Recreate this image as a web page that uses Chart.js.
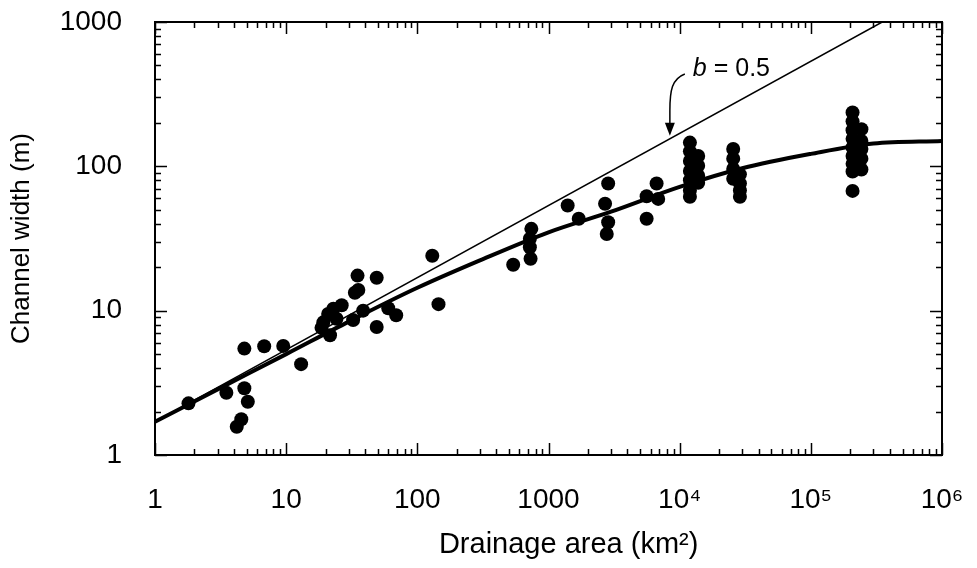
<!DOCTYPE html>
<html>
<head>
<meta charset="utf-8">
<style>
  html, body { margin: 0; padding: 0; background: #fff; }
  #wrap { width: 977px; height: 568px; }
</style>
</head>
<body>
<div id="wrap"><canvas id="widthChart"></canvas></div>
<script src="https://cdn.jsdelivr.net/npm/chart.js@4.4.1/dist/chart.umd.min.js"></script>
<script>
// Messpunkte: Einzugsgebiet (km²) und Gerinnebreite (m)
const areaKm2 = [
  1.8, 3.5, 4.8, 4.8, 5.1, 4.55, 4.2, 6.8, 9.5, 13,
  18.6, 19.2, 20.9, 21.6, 22.9, 24.2, 26.5, 32.4, 33.4, 35.5,
  35, 38.6, 49, 49, 60, 69, 130, 145,
  538, 740, 721, 721, 730, 1400, 1700, 2850, 2700, 2850, 2780,
  5600, 5600, 6670, 6860,
  11970, 11970, 11970, 11970, 11970, 11970, 11970,
  13840, 13840, 13840, 13840,
  25600, 25600, 25600, 25600,
  28800, 28800, 28800, 28800,
  208000, 208000, 208000, 208000, 208000, 208000, 208000, 208000, 208000,
  243000, 243000, 243000, 243000, 243000
];
const widthM = [
  2.28, 2.7, 5.46, 2.9, 2.34, 1.77, 1.57, 5.67, 5.7, 4.26,
  7.6, 8.3, 9.5, 6.75, 10.3, 8.8, 10.9, 8.6, 13.3, 13.9,
  17.5, 10.0, 16.9, 7.7, 10.4, 9.3, 24, 11.1,
  20.8, 36.9, 31.5, 27.5, 22.9, 53.5, 43.3, 76, 55, 41, 34,
  43.3, 62, 76, 59.5,
  146, 127, 109, 93, 80, 68, 61.5,
  118, 101, 86, 77,
  132, 113, 96, 82,
  88, 76, 68, 61.5,
  236, 205, 178, 155, 135, 118, 104, 92, 67.6,
  181, 150, 132, 113, 95
];

// dicke Ausgleichskurve
const fitArea = [1, 3, 10, 30, 100, 300, 1000, 3000, 1e4, 3e4, 1e5, 3e5, 1e6];
const fitWidth = [1.7, 2.85, 5.0, 8.4, 14.4, 22.3, 34.9, 48.5, 72, 97, 122, 144, 150];

// dünne Linie b = 0.5
const slopeArea = [1, 350000];
const slopeWidth = [1.7, 1000];

// Achsenbeschriftung
const xTickValues = [1, 10, 100, 1000, 1e4, 1e5, 1e6];
const xTickLabels = ['1', '10', '100', '1000', '10⁴', '10⁵', '10⁶'];
const yTickValues = [1, 10, 100, 1000];
const yTickLabels = ['1', '10', '100', '1000'];

// Anmerkung "b = 0.5" mit Pfeil
const noteAt = { x: 12600, y: 473 };
const arrowTip = { x: 8420, y: 163 };

const FONT = "'Liberation Sans', Arial, Helvetica, sans-serif";

const toXY = (xs, ys) => xs.map((x, i) => ({ x: x, y: ys[i] }));

// Rahmen, nach innen zeigende Striche und Anmerkung
const framePlugin = {
  id: 'frameAndTicks',
  afterDraw(chart) {
    const c = chart.ctx;
    const a = chart.chartArea;
    const xs = chart.scales.x, ys = chart.scales.y;
    c.save();
    c.strokeStyle = '#000';
    c.lineWidth = 2;
    c.strokeRect(a.left, a.top, a.right - a.left, a.bottom - a.top);

    c.lineWidth = 1.5;
    c.beginPath();
    for (let n = 0; n <= 6; n++) {
      for (let k = 1; k <= 9; k++) {
        const v = k * Math.pow(10, n);
        if (v > 1e6) break;
        const p = Math.round(xs.getPixelForValue(v)) + 0.5;
        const len = k === 1 ? 12 : 6;
        c.moveTo(p, a.bottom); c.lineTo(p, a.bottom - len);
        c.moveTo(p, a.top); c.lineTo(p, a.top + len);
      }
    }
    for (let n = 0; n <= 3; n++) {
      for (let k = 1; k <= 9; k++) {
        const v = k * Math.pow(10, n);
        if (v > 1000) break;
        const p = Math.round(ys.getPixelForValue(v)) + 0.5;
        const len = k === 1 ? 12 : 6;
        c.moveTo(a.left, p); c.lineTo(a.left + len, p);
        c.moveTo(a.right, p); c.lineTo(a.right - len, p);
      }
    }
    c.stroke();

    // Text
    const tx = xs.getPixelForValue(noteAt.x);
    const ty = ys.getPixelForValue(noteAt.y);
    c.fillStyle = '#000';
    c.textBaseline = 'middle';
    c.textAlign = 'left';
    c.font = 'italic 25px ' + FONT;
    c.fillText('b', tx, ty);
    const bw = c.measureText('b').width;
    c.font = '25px ' + FONT;
    c.fillText(' = 0.5', tx + bw, ty);

    // Pfeil
    const px = xs.getPixelForValue(arrowTip.x);
    const py = ys.getPixelForValue(arrowTip.y);
    c.lineWidth = 1.5;
    c.beginPath();
    c.moveTo(tx - 8, ty + 5);
    c.bezierCurveTo(px + 2, py - 57, px, py - 45, px, py - 25);
    c.lineTo(px, py - 12);
    c.stroke();
    c.beginPath();
    c.moveTo(px - 5, py - 13);
    c.lineTo(px + 5, py - 13);
    c.lineTo(px, py);
    c.closePath();
    c.fill();
    c.restore();
  }
};

// Skalen-Innenabstände zurücksetzen, damit nur layout.padding zählt
const noPad = s => { s.paddingTop = 0; s.paddingBottom = 0; s.paddingLeft = 0; s.paddingRight = 0; };

const ctx = document.getElementById('widthChart').getContext('2d');

const widthChart = new Chart(ctx, {
  data: {
    datasets: [
      {
        type: 'scatter',
        label: 'Messwerte',
        data: toXY(areaKm2, widthM),
        backgroundColor: '#000',
        borderWidth: 0,
        pointRadius: 7,
        order: 2
      },
      {
        type: 'line',
        label: 'Ausgleichskurve',
        data: toXY(fitArea, fitWidth),
        borderColor: '#000',
        borderWidth: 4,
        pointRadius: 0,
        cubicInterpolationMode: 'monotone',
        fill: false,
        order: 1
      },
      {
        type: 'line',
        label: 'b = 0.5',
        data: toXY(slopeArea, slopeWidth),
        borderColor: '#000',
        borderWidth: 1.5,
        pointRadius: 0,
        fill: false,
        order: 0
      }
    ]
  },
  options: {
    responsive: true,
    maintainAspectRatio: false,
    animation: false,
    devicePixelRatio: 1,
    layout: { padding: { top: 22, right: 35, bottom: 0, left: 0 } },
    plugins: {
      legend: { display: false },
      tooltip: { enabled: false }
    },
    scales: {
      x: {
        type: 'logarithmic',
        min: 1,
        max: 1e6,
        afterBuildTicks: s => { s.ticks = xTickValues.map(v => ({ value: v })); },
        afterFit: s => { s.height = 113; noPad(s); },
        grid: { display: false },
        border: { display: false },
        ticks: {
          autoSkip: false,
          maxRotation: 0,
          padding: 20,
          color: '#000',
          font: { family: FONT, size: 28 },
          callback: (v, i) => xTickLabels[i]
        },
        title: {
          display: true,
          text: '     Drainage area (km²)',
          color: '#000',
          font: { family: FONT, size: 29 },
          padding: { top: 0, bottom: 6 }
        }
      },
      y: {
        type: 'logarithmic',
        min: 1,
        max: 1000,
        afterBuildTicks: s => { s.ticks = yTickValues.map(v => ({ value: v })); },
        afterFit: s => { s.width = 155; noPad(s); },
        grid: { display: false },
        border: { display: false },
        ticks: {
          autoSkip: false,
          padding: 25,
          color: '#000',
          font: { family: FONT, size: 28 },
          callback: (v, i) => yTickLabels[i]
        },
        title: {
          display: true,
          text: 'Channel width (m)',
          color: '#000',
          font: { family: FONT, size: 26 },
          padding: { top: 6, bottom: 0 }
        }
      }
    }
  },
  plugins: [framePlugin]
});
</script>
</body>
</html>
